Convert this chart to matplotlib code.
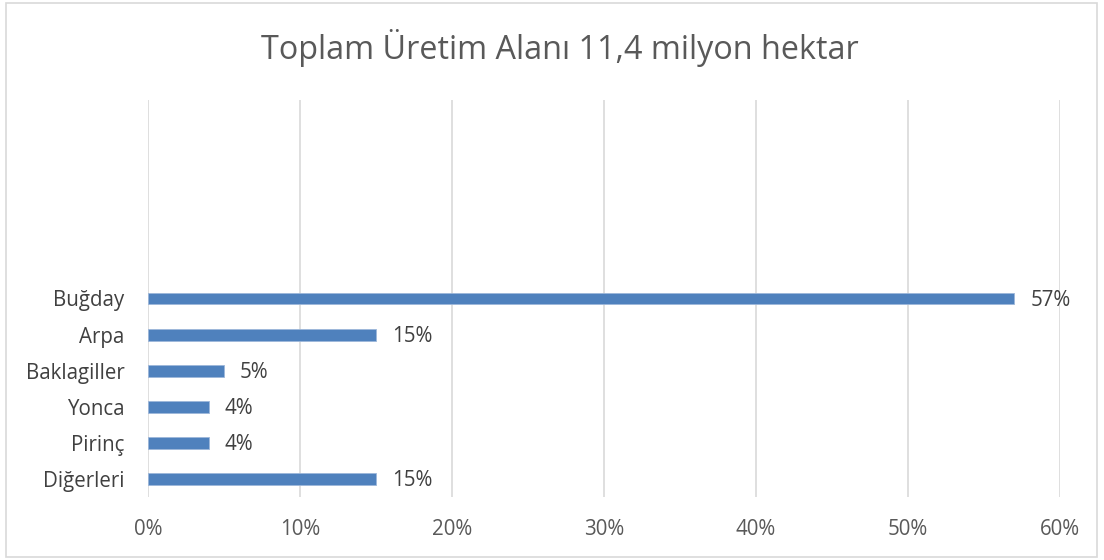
import numpy as np
import matplotlib.pyplot as plt
from matplotlib.patches import Rectangle

plt.rcParams['font.family'] = ['Open Sans', 'DejaVu Sans']

categories = ['Buğday', 'Arpa', 'Baklagiller', 'Yonca', 'Pirinç', 'Diğerleri']
values = [57, 15, 5, 4, 4, 15]
xticks = [0, 10, 20, 30, 40, 50, 60]
title = 'Toplam Üretim Alanı 11,4 milyon hektar'

txt = '#595959'
fig = plt.figure(figsize=(11.04, 5.6), dpi=100)
ax = fig.add_axes([0.1341, 0.1125, 0.826, 0.709])

# bottom category first, with 5 empty slots above the top bar
y = np.arange(len(categories))[::-1]
ax.barh(y, values, height=0.33, color='#4F81BD', edgecolor='#9DB7DA', linewidth=0.6, zorder=3)
for yi, v in zip(y, values):
    ax.text(v + 1.05, yi - 0.05, f'{v}%', va='center', ha='left', fontsize=14.8, color='#404040')

ax.set_xlim(0, 60)
ax.set_ylim(-0.5, 10.5)
ax.set_yticks(y)
ax.set_yticklabels(categories, fontsize=14.8, color='#404040')
ax.set_xticks(xticks)
ax.set_xticklabels([f'{t}%' for t in xticks], fontsize=14.8, color=txt)
ax.tick_params(length=0, pad=16)
ax.tick_params(axis='y', pad=17)
ax.grid(axis='x', color='#D9D9D9', linewidth=1.2, zorder=0)
for s in ax.spines.values():
    s.set_visible(False)

fig.text(0.507, 0.915, title, ha='center', va='center', fontsize=23.3, color=txt)
fig.patches.append(Rectangle((0.005, 0.006), 0.989, 0.988, transform=fig.transFigure,
                             fill=False, edgecolor='#D9D9D9', linewidth=1.2))

plt.savefig('out.png', dpi=100)
